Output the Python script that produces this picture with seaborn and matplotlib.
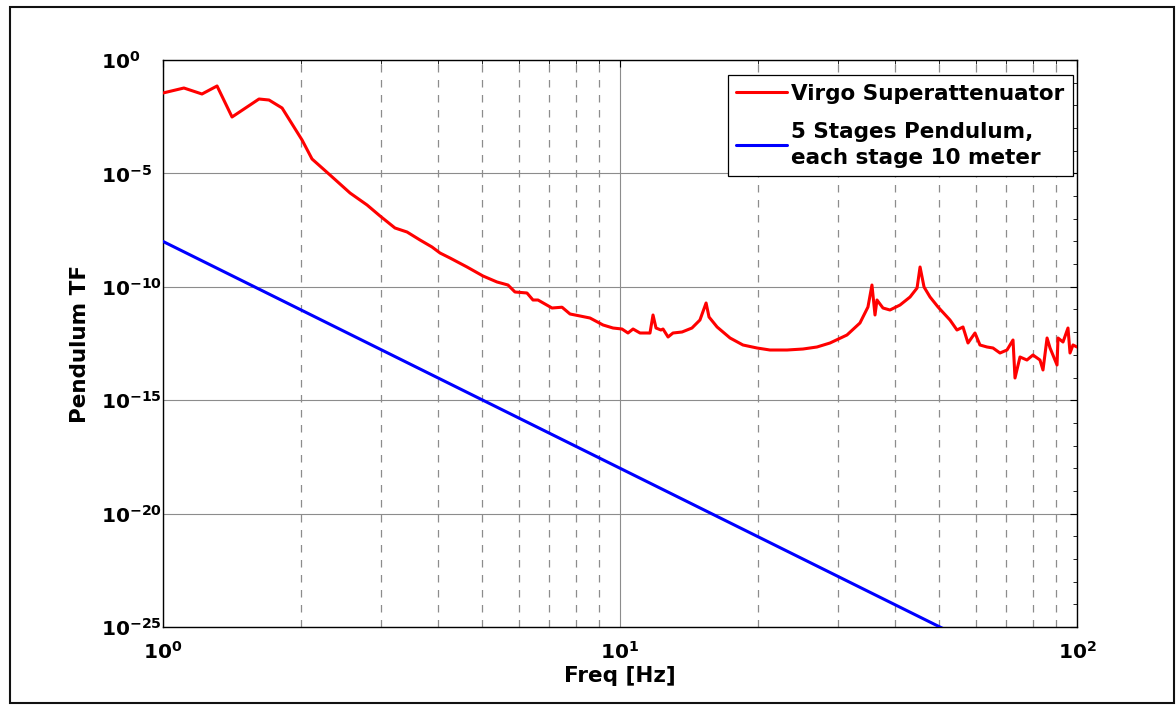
import numpy as np
import pandas as pd
import matplotlib
matplotlib.use('Agg')
import matplotlib.pyplot as plt
import matplotlib.ticker as mticker
from matplotlib.patches import Rectangle
import seaborn as sns

# Virgo superattenuator TF (freq in Hz, log10 of TF)
virgo_freq = [1.00, 1.111, 1.217, 1.313, 1.416, 1.622, 1.706, 1.822, 2.015, 2.119,
              2.320, 2.566, 2.796, 2.985, 3.218, 3.420, 3.651, 3.878, 4.038, 4.246,
              4.627, 5.015, 5.381, 5.687, 5.891, 6.258, 6.450, 6.615, 7.099, 7.467,
              7.774, 8.176, 8.597, 9.182, 9.654, 10.10, 10.41, 10.68, 11.06, 11.46,
              11.63, 11.81, 11.99, 12.29, 12.42, 12.74, 13.06, 13.67, 14.37, 14.96,
              15.43, 15.66, 16.31, 17.41, 18.58, 19.94, 21.29, 23.20, 25.14, 26.98,
              28.81, 31.38, 33.50, 34.88, 35.59, 36.14, 36.50, 37.62, 38.97, 41.00,
              43.12, 44.67, 45.35, 46.27, 47.69, 49.65, 52.73, 54.62, 56.30, 57.74,
              59.81, 61.33, 63.54, 65.49, 67.84, 70.28, 72.44, 73.17, 75.04, 77.71,
              80.10, 82.98, 84.25, 86.00, 87.30, 90.43, 90.87, 93.19, 95.56, 96.54,
              98.00, 100.0]
virgo_log_tf = [-1.455, -1.235, -1.499, -1.146, -2.513, -1.720, -1.764, -2.116, -3.527, -4.365,
                -5.071, -5.864, -6.393, -6.878, -7.407, -7.584, -7.937, -8.245, -8.510, -8.730,
                -9.127, -9.524, -9.788, -9.921, -10.229, -10.273, -10.582, -10.582, -10.935, -10.900,
                -11.199, -11.287, -11.376, -11.684, -11.817, -11.861, -12.037, -11.861, -12.037, -12.037,
                -12.040, -11.243, -11.817, -11.905, -11.861, -12.213, -12.037, -11.993, -11.817, -11.464,
                -10.714, -11.332, -11.772, -12.257, -12.566, -12.698, -12.787, -12.787, -12.743, -12.654,
                -12.478, -12.125, -11.596, -10.891, -9.921, -11.243, -10.582, -10.935, -11.023, -10.803,
                -10.450, -10.053, -9.127, -10.009, -10.450, -10.891, -11.464, -11.905, -11.772, -12.478,
                -12.037, -12.566, -12.654, -12.698, -12.919, -12.787, -12.346, -14.021, -13.095, -13.228,
                -13.007, -13.228, -13.668, -12.257, -12.698, -13.448, -12.257, -12.434, -11.817, -12.919,
                -12.566, -12.654]

# 5 stage pendulum, 10 m per stage (straight line on log-log)
pend_freq = [1, 2, 5, 10, 20, 50, 100]
pend_tf = [1e-8, 9.77e-12, 1.024e-15, 1e-18, 9.77e-22, 1.024e-25, 1e-28]

virgo_label = 'Virgo Superattenuator'
pend_label = '5 Stages Pendulum,\neach stage 10 meter'

sns.set_style('white')
plt.rcParams['font.family'] = ['DejaVu Sans']
plt.rcParams['font.weight'] = 'bold'
plt.rcParams['mathtext.fontset'] = 'dejavusans'
plt.rcParams['text.color'] = 'black'
plt.rcParams['axes.labelcolor'] = 'black'

df_virgo = pd.DataFrame({'freq': virgo_freq, 'tf': 10.0 ** np.array(virgo_log_tf)})
df_pend = pd.DataFrame({'freq': pend_freq, 'tf': pend_tf})

fig = plt.figure(figsize=(11.76, 7.05), dpi=100)
ax = fig.add_axes([163/1176, 1-627/705, 914/1176, 567/705])

sns.lineplot(data=df_virgo, x='freq', y='tf', color='#ff0000', lw=2.2, label=virgo_label,
             ax=ax, errorbar=None, zorder=3)
sns.lineplot(data=df_pend, x='freq', y='tf', color='#0000ff', lw=2.2, label=pend_label,
             ax=ax, errorbar=None, zorder=3)

ax.set_xscale('log')
ax.set_yscale('log')
ax.set_xlim(1, 100)
ax.set_ylim(1e-25, 1)

ax.set_xticks([1, 10, 100])
ax.xaxis.set_minor_locator(mticker.LogLocator(base=10, subs=np.arange(2, 10)))
ax.xaxis.set_minor_formatter(mticker.NullFormatter())
ax.set_yticks([1e-25, 1e-20, 1e-15, 1e-10, 1e-5, 1])
ax.yaxis.set_minor_locator(mticker.LogLocator(base=10, subs=[1.0], numticks=40))
ax.yaxis.set_minor_formatter(mticker.NullFormatter())

fmt = mticker.FuncFormatter(lambda v, p: r'$\mathbf{10^{%d}}$' % round(np.log10(v)))
ax.xaxis.set_major_formatter(fmt)
ax.yaxis.set_major_formatter(fmt)

ax.tick_params(axis='both', which='both', direction='in', top=True, right=True,
               colors='black', labelcolor='black', labelsize=14.5)
ax.tick_params(axis='both', which='major', length=5, width=0.8)
ax.tick_params(axis='both', which='minor', length=3, width=0.6)
ax.tick_params(axis='x', which='major', pad=10)
ax.tick_params(axis='y', which='major', pad=44.5)
plt.setp(ax.get_yticklabels(), ha='left')

# grid: solid at decades, dashed at 2..9
ax.grid(True, which='major', axis='both', color='#8c8c8c', lw=0.8, ls='-')
ax.grid(True, which='minor', axis='x', color='#8c8c8c', lw=0.9, ls=(0, (6, 6)))
ax.grid(False, which='minor', axis='y')
ax.set_axisbelow(True)

for s in ax.spines.values():
    s.set_color('black')
    s.set_linewidth(1.0)

ax.set_xlabel('Freq [Hz]', fontsize=15.5, fontweight='bold', color='black')
ax.set_ylabel('Pendulum TF', fontsize=15.5, fontweight='bold', color='black')
ax.xaxis.set_label_coords(0.5, -0.068)
ax.yaxis.set_label_coords(-0.08, 0.5)

leg = ax.legend(loc='upper right', bbox_to_anchor=(1073/1176, 1-75/705),
                bbox_transform=fig.transFigure, borderaxespad=0, fancybox=False,
                framealpha=1, edgecolor='black', handlelength=2.35,
                handletextpad=0.2, borderpad=0.4, labelspacing=0.85,
                prop={'weight': 'bold', 'size': 15.5})
leg.get_frame().set_linewidth(0.9)
for t in leg.get_texts():
    t.set_linespacing(1.35)
    t.set_color('black')

# frame around the whole picture
fig.patches.append(Rectangle((10/1176, 2/705), 1164/1176, 696/705, transform=fig.transFigure,
                             fill=False, edgecolor='#111111', lw=1.5))

fig.savefig('out.png', dpi=100)
